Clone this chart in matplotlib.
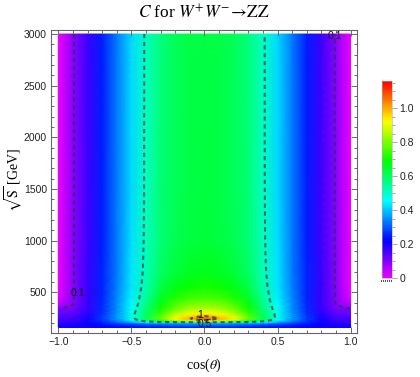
import numpy as np
import matplotlib
matplotlib.use("Agg")
import matplotlib.pyplot as plt
from matplotlib.colors import ListedColormap, Normalize
from matplotlib.ticker import MultipleLocator, FixedLocator
from matplotlib.cm import ScalarMappable
from matplotlib.lines import Line2D

plt.rcParams['mathtext.fontset'] = 'stix'

# ---------------- data ----------------
cos_theta = [-1.0, -0.9, -0.8, -0.7, -0.6, -0.5, -0.4, -0.3, -0.2, -0.1, 0.0,
             0.1, 0.2, 0.3, 0.4, 0.5, 0.6, 0.7, 0.8, 0.9, 1.0]
sqrt_s = [160, 180, 200, 212, 225, 235, 248, 262, 280, 300, 340, 380,
          450, 550, 700, 1000, 1500, 3000]

C_160 = [.2, .2, .2, .21, .22, .23, .24, .24, .25, .25, .25, .25, .25, .24, .24, .23, .22, .21, .2, .2, .2]
C_180 = [.2, .2, .21, .22, .24, .26, .27, .28, .29, .3, .3, .3, .29, .28, .27, .26, .24, .22, .21, .2, .2]
C_200 = [.18, .19, .21, .24, .27, .3, .33, .35, .36, .37, .38, .37, .36, .35, .33, .3, .27, .24, .21, .19, .18]
C_212 = [.17, .18, .2, .25, .31, .38, .45, .49, .5, .51, .52, .51, .5, .49, .45, .38, .31, .25, .2, .18, .17]
C_225 = [.16, .17, .2, .26, .33, .42, .54, .67, .79, .86, .9, .86, .79, .67, .54, .42, .33, .26, .2, .17, .16]
C_235 = [.16, .17, .2, .27, .35, .45, .59, .75, .89, .97, 1.03, .97, .89, .75, .59, .45, .35, .27, .2, .17, .16]
C_248 = [.15, .16, .2, .27, .36, .47, .61, .78, .93, .995, 1.08, .995, .93, .78, .61, .47, .36, .27, .2, .16, .15]
C_262 = [.14, .15, .195, .27, .36, .475, .61, .775, .91, .975, 1.03, .975, .91, .775, .61, .475, .36, .27, .195, .15, .14]
C_280 = [.13, .14, .19, .265, .36, .475, .605, .755, .875, .94, .975, .94, .875, .755, .605, .475, .36, .265, .19, .14, .13]
C_300 = [.12, .13, .18, .26, .355, .47, .593, .733, .84, .9, .925, .9, .84, .733, .593, .47, .355, .26, .18, .13, .12]
C_340 = [.1, .115, .175, .255, .35, .46, .578, .705, .795, .845, .86, .845, .795, .705, .578, .46, .35, .255, .175, .115, .1]
C_380 = [.05, .098, .17, .252, .345, .45, .563, .683, .76, .8, .812, .8, .76, .683, .563, .45, .345, .252, .17, .098, .05]
C_450 = [.01, .096, .168, .25, .34, .44, .548, .652, .712, .743, .752, .743, .712, .652, .548, .44, .34, .25, .168, .096, .01]
C_550 = [0, .095, .167, .248, .335, .43, .533, .622, .67, .695, .703, .695, .67, .622, .533, .43, .335, .248, .167, .095, 0]
C_700 = [0, .095, .166, .247, .333, .426, .521, .597, .637, .655, .662, .655, .637, .597, .521, .426, .333, .247, .166, .095, 0]
C_1000 = [0, .095, .165, .246, .331, .422, .514, .582, .615, .632, .637, .632, .615, .582, .514, .422, .331, .246, .165, .095, 0]
C_1500 = [0, .095, .165, .245, .33, .42, .512, .578, .61, .625, .63, .625, .61, .578, .512, .42, .33, .245, .165, .095, 0]
C_3000 = [0, .095, .165, .245, .33, .42, .511, .576, .607, .622, .627, .622, .607, .576, .511, .42, .33, .245, .165, .095, 0]

C_rows = [C_160, C_180, C_200, C_212, C_225, C_235, C_248, C_262, C_280, C_300,
          C_340, C_380, C_450, C_550, C_700, C_1000, C_1500, C_3000]

contour_levels = [0.1, 0.5, 1.0]
contour_label_text = ["0.1", "0.1", "0.5", "1"]
contour_label_pos = [(-0.865, 490), (0.89, 2985), (0.0, 192), (-0.03, 278)]

x_ticks = [-1.0, -0.5, 0.0, 0.5, 1.0]
x_tick_labels = ["\u22121.0", "\u22120.5", "0.0", "0.5", "1.0"]
y_ticks = [500, 1000, 1500, 2000, 2500, 3000]
y_tick_labels = ["500", "1000", "1500", "2000", "2500", "3000"]
cbar_ticks = [0, 0.2, 0.4, 0.6, 0.8, 1.0]
cbar_tick_labels = ["0", "0.2", "0.4", "0.6", "0.8", "1.0"]
c_min, c_max = 0.0, 1.16

# ---------------- figure ----------------
W, H = 420, 377
fig = plt.figure(figsize=(W / 100, H / 100), dpi=100)

def fig_rect(x0, y0, x1, y1):
    return [x0 / W, 1 - y1 / H, (x1 - x0) / W, (y1 - y0) / H]

ax = fig.add_axes(fig_rect(51, 30, 357, 333))

cmap = ListedColormap(plt.cm.hsv(np.linspace(5 / 6, 0, 512)))
norm = Normalize(vmin=c_min, vmax=c_max)

X, Y = np.meshgrid(np.array(cos_theta), np.array(sqrt_s, dtype=float))
Z = np.array(C_rows)
ax.pcolormesh(X, Y, Z, shading='gouraud', cmap=cmap, norm=norm)

ax.contour(X, Y, Z, levels=contour_levels, colors=[(0.1, 0.25, 0.25)],
           linewidths=1.5, linestyles=[(0, (2.0, 1.8))], alpha=0.75)

for txt, (cx, cy) in zip(contour_label_text, contour_label_pos):
    ax.text(cx, cy, txt, fontsize=7.5, family='Liberation Sans', color='#111111',
            ha='center', va='center')

ax.set_xlim(-1.05, 1.044)
ax.set_ylim(107, 3039)

frame_col = '#666666'
for sp in ax.spines.values():
    sp.set_color(frame_col)
    sp.set_linewidth(0.8)

ax.xaxis.set_major_locator(FixedLocator(x_ticks))
ax.set_xticklabels(x_tick_labels)
ax.xaxis.set_minor_locator(MultipleLocator(0.1))
ax.yaxis.set_major_locator(FixedLocator(y_ticks))
ax.set_yticklabels(y_tick_labels)
ax.yaxis.set_minor_locator(MultipleLocator(100))
ax.tick_params(which='both', direction='in', top=True, right=True,
               color=frame_col, width=0.7)
ax.tick_params(which='major', length=4, labelsize=7.5, labelcolor='#222222', pad=3)
ax.tick_params(which='minor', length=2.2)
for lab in ax.get_xticklabels() + ax.get_yticklabels():
    lab.set_family('Liberation Sans')

ax.set_xlabel(r"cos($\theta$)", fontsize=10, family='Liberation Serif', labelpad=7)
ax.set_ylabel(r"$\sqrt{\mathrm{S}}$ [GeV]", fontsize=10, family='Liberation Serif')
ax.yaxis.set_label_coords((25 - 51) / 306, (333 - 180) / 303)
ax.set_title(r"$C$ for $W^{+}W^{-}\!\rightarrow\!\mathrm{ZZ}$", fontsize=12.5,
             family='Liberation Serif', pad=8)

# colorbar
cax = fig.add_axes(fig_rect(382, 81, 392, 278))
sm = ScalarMappable(norm=norm, cmap=cmap)
cb = fig.colorbar(sm, cax=cax)
cb.set_ticks(cbar_ticks)
cb.set_ticklabels(cbar_tick_labels)
cb.ax.yaxis.set_minor_locator(MultipleLocator(0.05))
cb.ax.tick_params(which='both', direction='out', color='#999999', width=0.6)
cb.ax.tick_params(which='major', length=3.5, labelsize=7.5, labelcolor='#222222', pad=2)
cb.ax.tick_params(which='minor', length=2.2)
for lab in cb.ax.get_yticklabels():
    lab.set_family('Liberation Sans')
cb.outline.set_edgecolor('#aaaaaa')
cb.outline.set_linewidth(0.4)

fig.add_artist(Line2D([381 / W, 392 / W], [1 - 281 / H, 1 - 281 / H],
                      color='#333333', lw=1.2, linestyle=(0, (0.6, 0.6))))

fig.savefig("out.png", dpi=100)
